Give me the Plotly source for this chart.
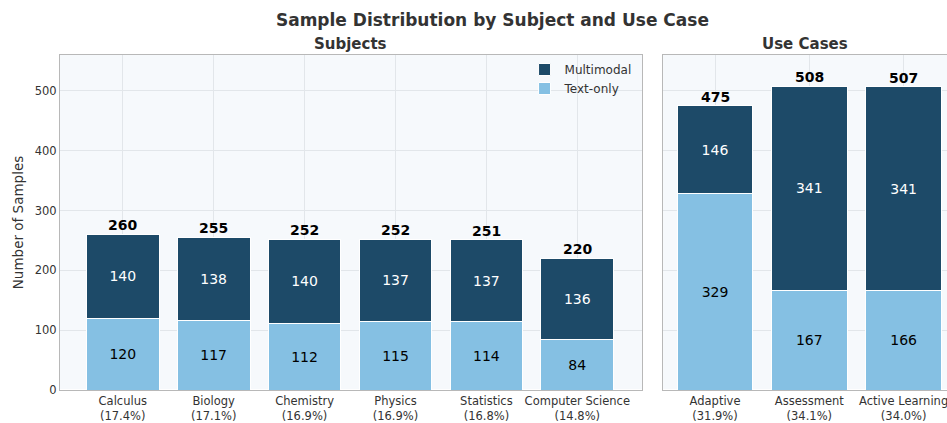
import plotly.graph_objects as go
from plotly.subplots import make_subplots

subjects = ["Calculus", "Biology", "Chemistry", "Physics", "Statistics", "Computer Science"]
subj_text = [120, 117, 112, 115, 114, 84]
subj_multi = [140, 138, 140, 137, 137, 136]

use_cases = ["Adaptive", "Assessment", "Active Learning"]
use_text = [329, 167, 166]
use_multi = [146, 341, 341]

DARK = "#1d4a68"
LIGHT = "#85c0e3"
FONT = "DejaVu Sans"


def labels(names, a, b):
    tot = [x + y for x, y in zip(a, b)]
    grand = sum(tot)
    return [f"{n}<br>({t / grand * 100:.1f}%)" for n, t in zip(names, tot)], tot


subj_labels, subj_tot = labels(subjects, subj_text, subj_multi)
use_labels, use_tot = labels(use_cases, use_text, use_multi)

fig = make_subplots(rows=1, cols=2, shared_yaxes=True)

for col, xs, t, m, show in [(1, subj_labels, subj_text, subj_multi, True),
                            (2, use_labels, use_text, use_multi, False)]:
    fig.add_trace(go.Bar(x=xs, y=t, name="Text-only", marker=dict(color=LIGHT, line=dict(color="white", width=1)),
                         text=t, textposition="inside", insidetextanchor="middle",
                         textfont=dict(color="black", size=14), showlegend=show, width=0.8),
                  row=1, col=col)
    fig.add_trace(go.Bar(x=xs, y=m, name="Multimodal", marker=dict(color=DARK, line=dict(color="white", width=1)),
                         text=m, textposition="inside", insidetextanchor="middle",
                         textfont=dict(color="white", size=14), showlegend=show, width=0.8),
                  row=1, col=col)

# totals above bars
for xs, tot, xr, yr in [(subj_labels, subj_tot, "x", "y"), (use_labels, use_tot, "x2", "y2")]:
    for x, v in zip(xs, tot):
        fig.add_annotation(x=x, y=v, xref=xr, yref=yr, text=f"<b>{v}</b>", showarrow=False,
                           yanchor="bottom", yshift=-1, font=dict(size=14, color="black", family=FONT))

axis_style = dict(showline=True, mirror=True, linecolor="#b8b8b8", linewidth=1,
                  showgrid=True, gridcolor="#e2e6ea", ticks="", tickfont=dict(size=11.5, color="#333"))

fig.update_xaxes(automargin=False, **axis_style)
fig.update_yaxes(automargin=False, **axis_style)
fig.update_layout(
    xaxis=dict(domain=[0, 0.656], range=[-0.69, 5.71]),
    xaxis2=dict(domain=[0.68, 1.0], range=[-0.55, 2.46]),
    yaxis=dict(range=[0, 560], dtick=100,
               title=dict(text="Number of Samples", standoff=8, font=dict(size=13.5, color="#333"))),
    yaxis2=dict(range=[0, 560], dtick=100, showticklabels=False),
)

fig.add_annotation(x=0.328, y=1.033, xref="paper", yref="paper", text="<b>Subjects</b>", showarrow=False,
                   xanchor="center", yanchor="middle", font=dict(size=15, color="#333", family=FONT))
fig.add_annotation(x=0.84, y=1.033, xref="paper", yref="paper", text="<b>Use Cases</b>", showarrow=False,
                   xanchor="center", yanchor="middle", font=dict(size=15, color="#333", family=FONT))

fig.update_layout(
    barmode="stack",
    width=947, height=423,
    margin=dict(l=60, r=0, t=55, b=33),
    title=dict(text="<b>Sample Distribution by Subject and Use Case</b>", x=0.52, xanchor="center",
               y=1 - 20 / 423, yanchor="middle", font=dict(size=17, color="#333", family=FONT)),
    font=dict(family=FONT, color="#333"),
    plot_bgcolor="#f6f9fc",
    paper_bgcolor="white",
    legend=dict(x=0.65, xanchor="right", y=1.0, yanchor="top", traceorder="reversed",
                bgcolor="rgba(255,255,255,0)", font=dict(size=12)),
)

# page body has a default margin; drop it so the figure sits at the corner
fig.write_html("out.html", config={"displayModeBar": False},
               post_script="document.body.style.margin='0';")
